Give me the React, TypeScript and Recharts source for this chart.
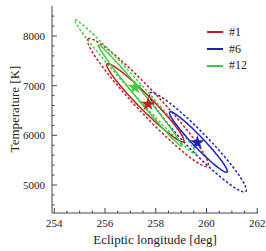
import React from 'react';
import { ScatterChart, Scatter, XAxis, YAxis, ZAxis, Label, Cell } from 'recharts';

// sources shown in the legend
const sources = ['#1', '#6', '#12'];
const colors = ['#c41e1e', '#1e22b4', '#46c846'];

// best-fit values (stars)
const bestLon = [257.7, 259.64, 257.18];
const bestTemp = [6631, 5852, 6967];

// inner (solid) contours: centre, end of long axis, end of short axis
const innerCenterLon = [257.59, 259.68, 257.38];
const innerCenterTemp = [6656, 5866, 6802];
const innerTipLon = [256.08, 258.55, 255.74];
const innerTipTemp = [7436, 6470, 7819];
const innerSideLon = [257.78, 259.83, 257.5];
const innerSideTemp = [6756, 5943, 6854];

// outer (dashed) contours
const outerCenterLon = [257.69, 259.66, 257.2];
const outerCenterTemp = [6661, 5861, 6973];
const outerTipLon = [255.33, 257.77, 254.82];
const outerTipTemp = [7940, 6853, 8322];
const outerSideLon = [258.01, 259.94, 257.37];
const outerSideTemp = [6820, 6002, 7054];

// axes
const xTicks = [254, 254.5, 255, 255.5, 256, 256.5, 257, 257.5, 258, 258.5, 259, 259.5, 260, 260.5, 261, 261.5, 262];
const xMajor = [254, 256, 258, 260, 262];
const yTicks = [4600, 4800, 5000, 5200, 5400, 5600, 5800, 6000, 6200, 6400, 6600, 6800, 7000, 7200, 7400, 7600, 7800, 8000, 8200, 8400];
const yMajor = [5000, 6000, 7000, 8000];

const FRAME = '#444';
const FONT = '"Liberation Serif", "DejaVu Serif", serif';

const contour = (cx: number, cy: number, tx: number, ty: number, sx: number, sy: number) => {
  const pts = [];
  for (let i = 0; i <= 120; i++) {
    const t = (i / 120) * 2 * Math.PI;
    pts.push({
      x: cx + (tx - cx) * Math.cos(t) + (sx - cx) * Math.sin(t),
      y: cy + (ty - cy) * Math.cos(t) + (sy - cy) * Math.sin(t),
    });
  }
  return pts;
};

const stars = sources.map((name, i) => ({ name, x: bestLon[i], y: bestTemp[i] }));

const BottomTick = (props: any) => {
  const { x, y, payload } = props;
  const major = xMajor.includes(payload.value);
  return (
    <g>
      <line x1={x} y1={y} x2={x} y2={y - (major ? 5 : 2.5)} stroke={FRAME} />
      {major && (
        <text x={x} y={y + 14} textAnchor="middle" fontSize={11} fontFamily={FONT} fill="#222">
          {payload.value}
        </text>
      )}
    </g>
  );
};

const TopTick = (props: any) => {
  const { x, y, payload } = props;
  const major = xMajor.includes(payload.value);
  return <line x1={x} y1={y} x2={x} y2={y + (major ? 5 : 2.5)} stroke={FRAME} />;
};

const LeftTick = (props: any) => {
  const { x, y, payload } = props;
  const major = yMajor.includes(payload.value);
  return (
    <g>
      <line x1={x} y1={y} x2={x + (major ? 5 : 2.5)} y2={y} stroke={FRAME} />
      {major && (
        <text x={x - 7} y={y + 4} textAnchor="end" fontSize={11} fontFamily={FONT} fill="#222">
          {payload.value}
        </text>
      )}
    </g>
  );
};

const RightTick = (props: any) => {
  const { x, y, payload } = props;
  const major = yMajor.includes(payload.value);
  return <line x1={x} y1={y} x2={x - (major ? 5 : 2.5)} y2={y} stroke={FRAME} />;
};

const NoDot = () => <g />;

export default function App() {
  return (
    <div style={{ position: 'absolute', left: 0, top: 0, width: 266, height: 251 }}>
      <ScatterChart width={266} height={251} margin={{ top: 6, right: 8, bottom: 0, left: 0 }}>
        <XAxis
          type="number"
          dataKey="x"
          domain={[253.91, 262.03]}
          allowDataOverflow
          ticks={xTicks}
          interval={0}
          height={38}
          tickSize={0}
          tickMargin={0}
          tickLine={false}
          tick={<BottomTick />}
          axisLine={{ stroke: FRAME }}
        >
          <Label
            content={() => (
              <text x={155} y={244} textAnchor="middle" fontSize={13} fontFamily={FONT} fill="#222">
                Ecliptic longitude [deg]
              </text>
            )}
          />
        </XAxis>
        <XAxis
          xAxisId="top"
          orientation="top"
          type="number"
          dataKey="x"
          domain={[253.91, 262.03]}
          allowDataOverflow
          ticks={xTicks}
          interval={0}
          height={0}
          tickSize={0}
          tickMargin={0}
          tickLine={false}
          tick={<TopTick />}
          axisLine={{ stroke: FRAME }}
        />
        <YAxis
          type="number"
          dataKey="y"
          domain={[4436, 8604]}
          allowDataOverflow
          ticks={yTicks}
          interval={0}
          width={52}
          tickSize={0}
          tickMargin={0}
          tickLine={false}
          tick={<LeftTick />}
          axisLine={{ stroke: FRAME }}
        >
          <Label
            content={() => (
              <text
                x={14}
                y={109}
                transform="rotate(-90 14 109)"
                textAnchor="middle"
                dominantBaseline="central"
                fontSize={13}
                fontFamily={FONT}
                fill="#222"
              >
                Temperature [K]
              </text>
            )}
          />
        </YAxis>
        <YAxis
          yAxisId="right"
          orientation="right"
          type="number"
          dataKey="y"
          domain={[4436, 8604]}
          allowDataOverflow
          ticks={yTicks}
          interval={0}
          width={0}
          tickSize={0}
          tickMargin={0}
          tickLine={false}
          tick={<RightTick />}
          axisLine={{ stroke: FRAME }}
        />
        <ZAxis range={[14, 14]} />
        {sources.map((name, i) => (
          <Scatter
            key={'outer' + name}
            data={contour(outerCenterLon[i], outerCenterTemp[i], outerTipLon[i], outerTipTemp[i], outerSideLon[i], outerSideTemp[i])}
            fill={colors[i]}
            line={{ stroke: colors[i], strokeWidth: 1.5, strokeDasharray: '2.5 2' }}
            shape={<NoDot />}
            isAnimationActive={false}
          />
        ))}
        {sources.map((name, i) => (
          <Scatter
            key={'inner' + name}
            data={contour(innerCenterLon[i], innerCenterTemp[i], innerTipLon[i], innerTipTemp[i], innerSideLon[i], innerSideTemp[i])}
            fill={colors[i]}
            line={{ stroke: colors[i], strokeWidth: 1.5 }}
            shape={<NoDot />}
            isAnimationActive={false}
          />
        ))}
        <Scatter data={stars} shape="star" isAnimationActive={false}>
          {stars.map((s, i) => (
            <Cell key={s.name} fill={colors[i]} />
          ))}
        </Scatter>
      </ScatterChart>
      <div style={{ position: 'absolute', left: 206, top: 24 }}>
        {sources.map((name, i) => (
          <div key={name} style={{ display: 'flex', alignItems: 'center', height: 16.7 }}>
            <svg width={18} height={4} style={{ marginRight: 5 }}>
              <line x1={1} y1={2} x2={17} y2={2} stroke={colors[i]} strokeWidth={2} />
            </svg>
            <span style={{ fontFamily: FONT, fontSize: 12, color: '#222' }}>{name}</span>
          </div>
        ))}
      </div>
    </div>
  );
}
